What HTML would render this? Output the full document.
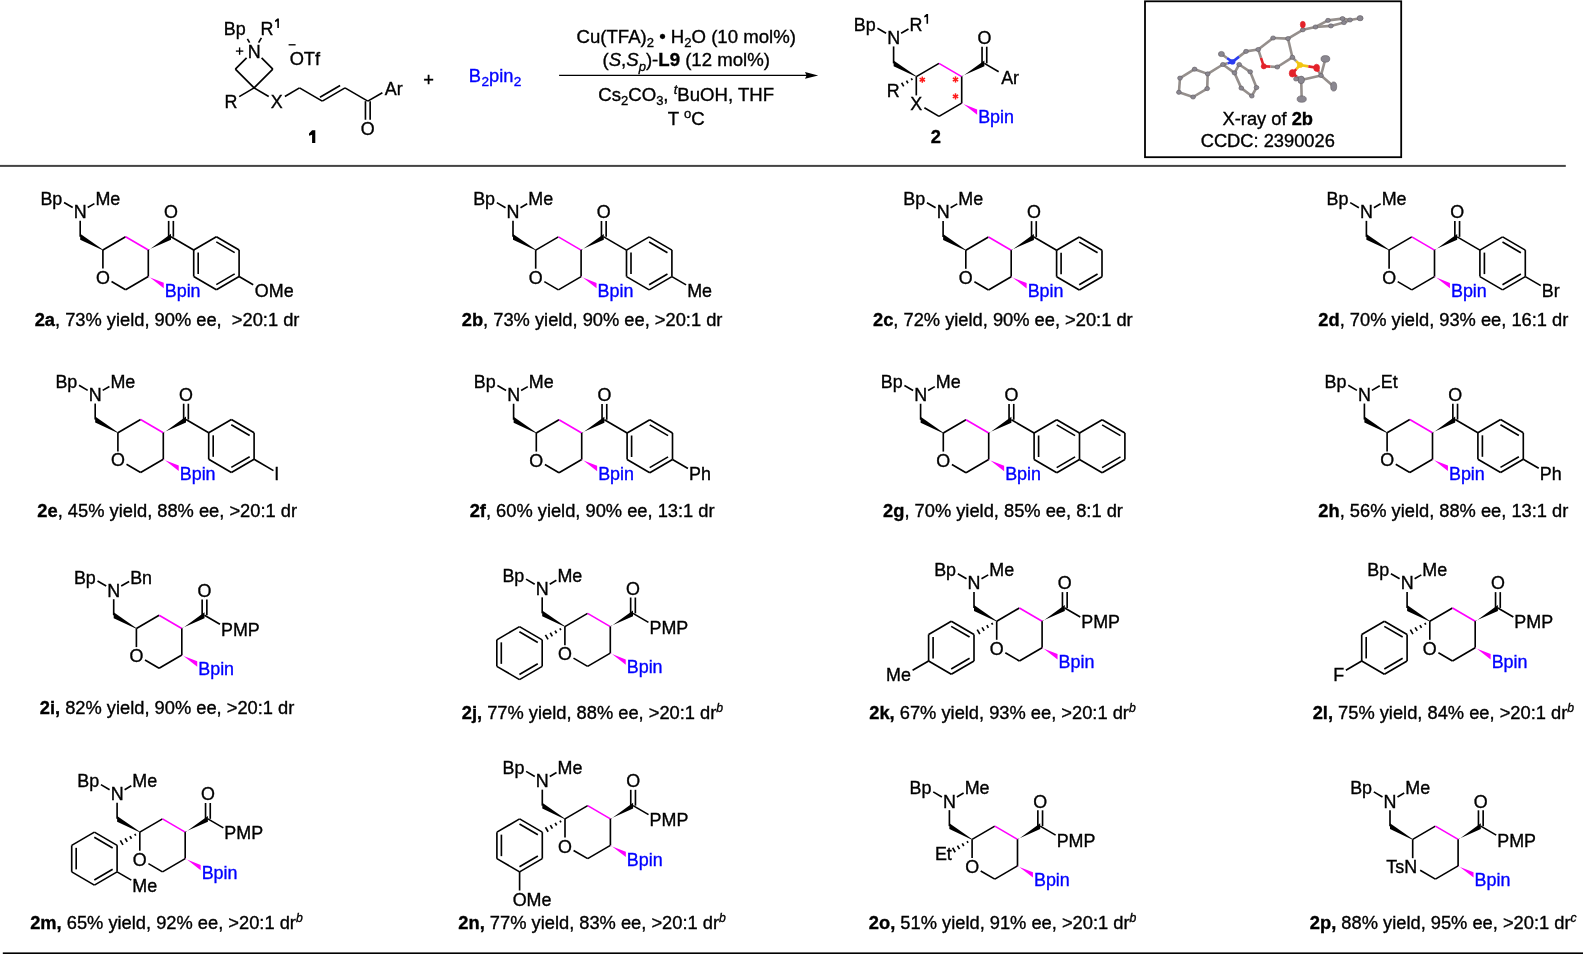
<!DOCTYPE html>
<html><head><meta charset="utf-8"><style>
html,body{margin:0;padding:0;background:#fff;overflow:hidden}
svg{display:block;will-change:transform}
</style></head><body>
<svg width="1583" height="954" viewBox="0 0 1583 954">
<rect width="1583" height="954" fill="#fff"/>
<g font-family="&quot;Liberation Sans&quot;, sans-serif" font-size="18.3" fill="#000" stroke="#000" stroke-width="0.35">
<text x="73.73" y="218.25" font-size="17.9">N</text>
<text x="40.38" y="205" font-size="17.9">Bp</text>
<text x="95.44" y="205" font-size="17.9">Me</text>
<text x="95.94" y="283.6" font-size="17.9">O</text>
<text x="164.04" y="218.25" font-size="17.9">O</text>
<text x="164.77" y="296.85" font-size="17.9" fill="#0000ff" stroke="#0000ff">Bpin</text>
<line x1="80.2" y1="220.75" x2="80.2" y2="236.75" stroke="#000" stroke-width="1.65"/>
<polygon points="103.05,249.74 80.2,233.8 80.2,239.7 102.75,250.26" fill="#000" stroke="none"/>
<line x1="64.02" y1="202.51" x2="72.7" y2="207.57" stroke="#000" stroke-width="1.65"/>
<line x1="87.7" y1="207.57" x2="94.41" y2="203.65" stroke="#000" stroke-width="1.65"/>
<line x1="102.9" y1="250" x2="125.6" y2="236.75" stroke="#000" stroke-width="1.65"/>
<line x1="125.6" y1="236.75" x2="148.3" y2="250" stroke="#ff00ff" stroke-width="1.65"/>
<line x1="148.3" y1="250" x2="148.3" y2="276.5" stroke="#000" stroke-width="1.65"/>
<line x1="148.3" y1="276.5" x2="125.6" y2="289.75" stroke="#000" stroke-width="1.65"/>
<line x1="125.6" y1="289.75" x2="111.51" y2="281.53" stroke="#000" stroke-width="1.65"/>
<line x1="102.9" y1="268.6" x2="102.9" y2="250" stroke="#000" stroke-width="1.65"/>
<polygon points="148.45,250.26 171,233.8 171,239.7 148.15,249.74" fill="#000" stroke="none"/>
<line x1="173.35" y1="236.75" x2="173.35" y2="220.92" stroke="#000" stroke-width="1.65"/>
<line x1="168.65" y1="236.75" x2="168.65" y2="220.92" stroke="#000" stroke-width="1.65"/>
<polygon points="148.15,276.76 163.74,282.81 163.74,288.21 148.45,276.24" fill="#ff00ff" stroke="none"/>
<line x1="171" y1="236.75" x2="193.7" y2="250" stroke="#000" stroke-width="1.65"/>
<line x1="193.7" y1="250" x2="216.4" y2="236.75" stroke="#000" stroke-width="1.65"/>
<line x1="216.4" y1="236.75" x2="239.1" y2="250" stroke="#000" stroke-width="1.65"/>
<line x1="239.1" y1="250" x2="239.1" y2="276.5" stroke="#000" stroke-width="1.65"/>
<line x1="239.1" y1="276.5" x2="216.4" y2="289.75" stroke="#000" stroke-width="1.65"/>
<line x1="216.4" y1="289.75" x2="193.7" y2="276.5" stroke="#000" stroke-width="1.65"/>
<line x1="193.7" y1="276.5" x2="193.7" y2="250" stroke="#000" stroke-width="1.65"/>
<line x1="216.29" y1="241.9" x2="234.67" y2="252.63" stroke="#000" stroke-width="1.65"/>
<line x1="234.67" y1="273.87" x2="216.29" y2="284.6" stroke="#000" stroke-width="1.65"/>
<line x1="198.2" y1="274" x2="198.2" y2="252.5" stroke="#000" stroke-width="1.65"/>
<text x="254.84" y="296.85" font-size="17.9">OMe</text>
<line x1="239.1" y1="276.5" x2="253.19" y2="284.72" stroke="#000" stroke-width="1.65"/>
<text x="506.53" y="218.35" font-size="17.9">N</text>
<text x="473.18" y="205.1" font-size="17.9">Bp</text>
<text x="528.24" y="205.1" font-size="17.9">Me</text>
<text x="528.74" y="283.7" font-size="17.9">O</text>
<text x="596.84" y="218.35" font-size="17.9">O</text>
<text x="597.57" y="296.95" font-size="17.9" fill="#0000ff" stroke="#0000ff">Bpin</text>
<line x1="513" y1="220.85" x2="513" y2="236.85" stroke="#000" stroke-width="1.65"/>
<polygon points="535.85,249.84 513,233.9 513,239.8 535.55,250.36" fill="#000" stroke="none"/>
<line x1="496.82" y1="202.61" x2="505.5" y2="207.67" stroke="#000" stroke-width="1.65"/>
<line x1="520.5" y1="207.67" x2="527.21" y2="203.75" stroke="#000" stroke-width="1.65"/>
<line x1="535.7" y1="250.1" x2="558.4" y2="236.85" stroke="#000" stroke-width="1.65"/>
<line x1="558.4" y1="236.85" x2="581.1" y2="250.1" stroke="#ff00ff" stroke-width="1.65"/>
<line x1="581.1" y1="250.1" x2="581.1" y2="276.6" stroke="#000" stroke-width="1.65"/>
<line x1="581.1" y1="276.6" x2="558.4" y2="289.85" stroke="#000" stroke-width="1.65"/>
<line x1="558.4" y1="289.85" x2="544.31" y2="281.63" stroke="#000" stroke-width="1.65"/>
<line x1="535.7" y1="268.7" x2="535.7" y2="250.1" stroke="#000" stroke-width="1.65"/>
<polygon points="581.25,250.36 603.8,233.9 603.8,239.8 580.95,249.84" fill="#000" stroke="none"/>
<line x1="606.15" y1="236.85" x2="606.15" y2="221.02" stroke="#000" stroke-width="1.65"/>
<line x1="601.45" y1="236.85" x2="601.45" y2="221.02" stroke="#000" stroke-width="1.65"/>
<polygon points="580.95,276.86 596.54,282.91 596.54,288.31 581.25,276.34" fill="#ff00ff" stroke="none"/>
<line x1="603.8" y1="236.85" x2="626.5" y2="250.1" stroke="#000" stroke-width="1.65"/>
<line x1="626.5" y1="250.1" x2="649.2" y2="236.85" stroke="#000" stroke-width="1.65"/>
<line x1="649.2" y1="236.85" x2="671.9" y2="250.1" stroke="#000" stroke-width="1.65"/>
<line x1="671.9" y1="250.1" x2="671.9" y2="276.6" stroke="#000" stroke-width="1.65"/>
<line x1="671.9" y1="276.6" x2="649.2" y2="289.85" stroke="#000" stroke-width="1.65"/>
<line x1="649.2" y1="289.85" x2="626.5" y2="276.6" stroke="#000" stroke-width="1.65"/>
<line x1="626.5" y1="276.6" x2="626.5" y2="250.1" stroke="#000" stroke-width="1.65"/>
<line x1="649.09" y1="242" x2="667.47" y2="252.73" stroke="#000" stroke-width="1.65"/>
<line x1="667.47" y1="273.97" x2="649.09" y2="284.7" stroke="#000" stroke-width="1.65"/>
<line x1="631" y1="274.1" x2="631" y2="252.6" stroke="#000" stroke-width="1.65"/>
<text x="687.14" y="296.95" font-size="17.9">Me</text>
<line x1="671.9" y1="276.6" x2="686.11" y2="284.9" stroke="#000" stroke-width="1.65"/>
<text x="936.63" y="218.45" font-size="17.9">N</text>
<text x="903.28" y="205.2" font-size="17.9">Bp</text>
<text x="958.34" y="205.2" font-size="17.9">Me</text>
<text x="958.84" y="283.8" font-size="17.9">O</text>
<text x="1026.94" y="218.45" font-size="17.9">O</text>
<text x="1027.67" y="297.05" font-size="17.9" fill="#0000ff" stroke="#0000ff">Bpin</text>
<line x1="943.1" y1="220.95" x2="943.1" y2="236.95" stroke="#000" stroke-width="1.65"/>
<polygon points="965.95,249.94 943.1,234 943.1,239.9 965.65,250.46" fill="#000" stroke="none"/>
<line x1="926.92" y1="202.71" x2="935.6" y2="207.77" stroke="#000" stroke-width="1.65"/>
<line x1="950.6" y1="207.77" x2="957.31" y2="203.85" stroke="#000" stroke-width="1.65"/>
<line x1="965.8" y1="250.2" x2="988.5" y2="236.95" stroke="#000" stroke-width="1.65"/>
<line x1="988.5" y1="236.95" x2="1011.2" y2="250.2" stroke="#ff00ff" stroke-width="1.65"/>
<line x1="1011.2" y1="250.2" x2="1011.2" y2="276.7" stroke="#000" stroke-width="1.65"/>
<line x1="1011.2" y1="276.7" x2="988.5" y2="289.95" stroke="#000" stroke-width="1.65"/>
<line x1="988.5" y1="289.95" x2="974.41" y2="281.73" stroke="#000" stroke-width="1.65"/>
<line x1="965.8" y1="268.8" x2="965.8" y2="250.2" stroke="#000" stroke-width="1.65"/>
<polygon points="1011.35,250.46 1033.9,234 1033.9,239.9 1011.05,249.94" fill="#000" stroke="none"/>
<line x1="1036.25" y1="236.95" x2="1036.25" y2="221.12" stroke="#000" stroke-width="1.65"/>
<line x1="1031.55" y1="236.95" x2="1031.55" y2="221.12" stroke="#000" stroke-width="1.65"/>
<polygon points="1011.05,276.96 1026.64,283.01 1026.64,288.41 1011.35,276.44" fill="#ff00ff" stroke="none"/>
<line x1="1033.9" y1="236.95" x2="1056.6" y2="250.2" stroke="#000" stroke-width="1.65"/>
<line x1="1056.6" y1="250.2" x2="1079.3" y2="236.95" stroke="#000" stroke-width="1.65"/>
<line x1="1079.3" y1="236.95" x2="1102" y2="250.2" stroke="#000" stroke-width="1.65"/>
<line x1="1102" y1="250.2" x2="1102" y2="276.7" stroke="#000" stroke-width="1.65"/>
<line x1="1102" y1="276.7" x2="1079.3" y2="289.95" stroke="#000" stroke-width="1.65"/>
<line x1="1079.3" y1="289.95" x2="1056.6" y2="276.7" stroke="#000" stroke-width="1.65"/>
<line x1="1056.6" y1="276.7" x2="1056.6" y2="250.2" stroke="#000" stroke-width="1.65"/>
<line x1="1079.19" y1="242.1" x2="1097.57" y2="252.83" stroke="#000" stroke-width="1.65"/>
<line x1="1097.57" y1="274.07" x2="1079.19" y2="284.8" stroke="#000" stroke-width="1.65"/>
<line x1="1061.1" y1="274.2" x2="1061.1" y2="252.7" stroke="#000" stroke-width="1.65"/>
<text x="1359.93" y="218.35" font-size="17.9">N</text>
<text x="1326.58" y="205.1" font-size="17.9">Bp</text>
<text x="1381.64" y="205.1" font-size="17.9">Me</text>
<text x="1382.14" y="283.7" font-size="17.9">O</text>
<text x="1450.24" y="218.35" font-size="17.9">O</text>
<text x="1450.97" y="296.95" font-size="17.9" fill="#0000ff" stroke="#0000ff">Bpin</text>
<line x1="1366.4" y1="220.85" x2="1366.4" y2="236.85" stroke="#000" stroke-width="1.65"/>
<polygon points="1389.25,249.84 1366.4,233.9 1366.4,239.8 1388.95,250.36" fill="#000" stroke="none"/>
<line x1="1350.22" y1="202.61" x2="1358.9" y2="207.67" stroke="#000" stroke-width="1.65"/>
<line x1="1373.9" y1="207.67" x2="1380.61" y2="203.75" stroke="#000" stroke-width="1.65"/>
<line x1="1389.1" y1="250.1" x2="1411.8" y2="236.85" stroke="#000" stroke-width="1.65"/>
<line x1="1411.8" y1="236.85" x2="1434.5" y2="250.1" stroke="#ff00ff" stroke-width="1.65"/>
<line x1="1434.5" y1="250.1" x2="1434.5" y2="276.6" stroke="#000" stroke-width="1.65"/>
<line x1="1434.5" y1="276.6" x2="1411.8" y2="289.85" stroke="#000" stroke-width="1.65"/>
<line x1="1411.8" y1="289.85" x2="1397.71" y2="281.63" stroke="#000" stroke-width="1.65"/>
<line x1="1389.1" y1="268.7" x2="1389.1" y2="250.1" stroke="#000" stroke-width="1.65"/>
<polygon points="1434.65,250.36 1457.2,233.9 1457.2,239.8 1434.35,249.84" fill="#000" stroke="none"/>
<line x1="1459.55" y1="236.85" x2="1459.55" y2="221.02" stroke="#000" stroke-width="1.65"/>
<line x1="1454.85" y1="236.85" x2="1454.85" y2="221.02" stroke="#000" stroke-width="1.65"/>
<polygon points="1434.35,276.86 1449.94,282.91 1449.94,288.31 1434.65,276.34" fill="#ff00ff" stroke="none"/>
<line x1="1457.2" y1="236.85" x2="1479.9" y2="250.1" stroke="#000" stroke-width="1.65"/>
<line x1="1479.9" y1="250.1" x2="1502.6" y2="236.85" stroke="#000" stroke-width="1.65"/>
<line x1="1502.6" y1="236.85" x2="1525.3" y2="250.1" stroke="#000" stroke-width="1.65"/>
<line x1="1525.3" y1="250.1" x2="1525.3" y2="276.6" stroke="#000" stroke-width="1.65"/>
<line x1="1525.3" y1="276.6" x2="1502.6" y2="289.85" stroke="#000" stroke-width="1.65"/>
<line x1="1502.6" y1="289.85" x2="1479.9" y2="276.6" stroke="#000" stroke-width="1.65"/>
<line x1="1479.9" y1="276.6" x2="1479.9" y2="250.1" stroke="#000" stroke-width="1.65"/>
<line x1="1502.49" y1="242" x2="1520.87" y2="252.73" stroke="#000" stroke-width="1.65"/>
<line x1="1520.87" y1="273.97" x2="1502.49" y2="284.7" stroke="#000" stroke-width="1.65"/>
<line x1="1484.4" y1="274.1" x2="1484.4" y2="252.6" stroke="#000" stroke-width="1.65"/>
<text x="1541.77" y="296.95" font-size="17.9">Br</text>
<line x1="1525.3" y1="276.6" x2="1540.74" y2="285.61" stroke="#000" stroke-width="1.65"/>
<text x="88.73" y="401.05" font-size="17.9">N</text>
<text x="55.38" y="387.8" font-size="17.9">Bp</text>
<text x="110.44" y="387.8" font-size="17.9">Me</text>
<text x="110.94" y="466.4" font-size="17.9">O</text>
<text x="179.04" y="401.05" font-size="17.9">O</text>
<text x="179.77" y="479.65" font-size="17.9" fill="#0000ff" stroke="#0000ff">Bpin</text>
<line x1="95.2" y1="403.55" x2="95.2" y2="419.55" stroke="#000" stroke-width="1.65"/>
<polygon points="118.05,432.54 95.2,416.6 95.2,422.5 117.75,433.06" fill="#000" stroke="none"/>
<line x1="79.02" y1="385.31" x2="87.7" y2="390.37" stroke="#000" stroke-width="1.65"/>
<line x1="102.7" y1="390.37" x2="109.41" y2="386.45" stroke="#000" stroke-width="1.65"/>
<line x1="117.9" y1="432.8" x2="140.6" y2="419.55" stroke="#000" stroke-width="1.65"/>
<line x1="140.6" y1="419.55" x2="163.3" y2="432.8" stroke="#ff00ff" stroke-width="1.65"/>
<line x1="163.3" y1="432.8" x2="163.3" y2="459.3" stroke="#000" stroke-width="1.65"/>
<line x1="163.3" y1="459.3" x2="140.6" y2="472.55" stroke="#000" stroke-width="1.65"/>
<line x1="140.6" y1="472.55" x2="126.51" y2="464.33" stroke="#000" stroke-width="1.65"/>
<line x1="117.9" y1="451.4" x2="117.9" y2="432.8" stroke="#000" stroke-width="1.65"/>
<polygon points="163.45,433.06 186,416.6 186,422.5 163.15,432.54" fill="#000" stroke="none"/>
<line x1="188.35" y1="419.55" x2="188.35" y2="403.72" stroke="#000" stroke-width="1.65"/>
<line x1="183.65" y1="419.55" x2="183.65" y2="403.72" stroke="#000" stroke-width="1.65"/>
<polygon points="163.15,459.56 178.74,465.61 178.74,471.01 163.45,459.04" fill="#ff00ff" stroke="none"/>
<line x1="186" y1="419.55" x2="208.7" y2="432.8" stroke="#000" stroke-width="1.65"/>
<line x1="208.7" y1="432.8" x2="231.4" y2="419.55" stroke="#000" stroke-width="1.65"/>
<line x1="231.4" y1="419.55" x2="254.1" y2="432.8" stroke="#000" stroke-width="1.65"/>
<line x1="254.1" y1="432.8" x2="254.1" y2="459.3" stroke="#000" stroke-width="1.65"/>
<line x1="254.1" y1="459.3" x2="231.4" y2="472.55" stroke="#000" stroke-width="1.65"/>
<line x1="231.4" y1="472.55" x2="208.7" y2="459.3" stroke="#000" stroke-width="1.65"/>
<line x1="208.7" y1="459.3" x2="208.7" y2="432.8" stroke="#000" stroke-width="1.65"/>
<line x1="231.29" y1="424.7" x2="249.67" y2="435.43" stroke="#000" stroke-width="1.65"/>
<line x1="249.67" y1="456.67" x2="231.29" y2="467.4" stroke="#000" stroke-width="1.65"/>
<line x1="213.2" y1="456.8" x2="213.2" y2="435.3" stroke="#000" stroke-width="1.65"/>
<text x="274.31" y="479.65" font-size="17.9">I</text>
<line x1="254.1" y1="459.3" x2="273.47" y2="470.6" stroke="#000" stroke-width="1.65"/>
<text x="507.13" y="401.25" font-size="17.9">N</text>
<text x="473.78" y="388" font-size="17.9">Bp</text>
<text x="528.84" y="388" font-size="17.9">Me</text>
<text x="529.34" y="466.6" font-size="17.9">O</text>
<text x="597.44" y="401.25" font-size="17.9">O</text>
<text x="598.17" y="479.85" font-size="17.9" fill="#0000ff" stroke="#0000ff">Bpin</text>
<line x1="513.6" y1="403.75" x2="513.6" y2="419.75" stroke="#000" stroke-width="1.65"/>
<polygon points="536.45,432.74 513.6,416.8 513.6,422.7 536.15,433.26" fill="#000" stroke="none"/>
<line x1="497.42" y1="385.51" x2="506.1" y2="390.57" stroke="#000" stroke-width="1.65"/>
<line x1="521.1" y1="390.57" x2="527.81" y2="386.65" stroke="#000" stroke-width="1.65"/>
<line x1="536.3" y1="433" x2="559" y2="419.75" stroke="#000" stroke-width="1.65"/>
<line x1="559" y1="419.75" x2="581.7" y2="433" stroke="#ff00ff" stroke-width="1.65"/>
<line x1="581.7" y1="433" x2="581.7" y2="459.5" stroke="#000" stroke-width="1.65"/>
<line x1="581.7" y1="459.5" x2="559" y2="472.75" stroke="#000" stroke-width="1.65"/>
<line x1="559" y1="472.75" x2="544.91" y2="464.53" stroke="#000" stroke-width="1.65"/>
<line x1="536.3" y1="451.6" x2="536.3" y2="433" stroke="#000" stroke-width="1.65"/>
<polygon points="581.85,433.26 604.4,416.8 604.4,422.7 581.55,432.74" fill="#000" stroke="none"/>
<line x1="606.75" y1="419.75" x2="606.75" y2="403.92" stroke="#000" stroke-width="1.65"/>
<line x1="602.05" y1="419.75" x2="602.05" y2="403.92" stroke="#000" stroke-width="1.65"/>
<polygon points="581.55,459.76 597.14,465.81 597.14,471.21 581.85,459.24" fill="#ff00ff" stroke="none"/>
<line x1="604.4" y1="419.75" x2="627.1" y2="433" stroke="#000" stroke-width="1.65"/>
<line x1="627.1" y1="433" x2="649.8" y2="419.75" stroke="#000" stroke-width="1.65"/>
<line x1="649.8" y1="419.75" x2="672.5" y2="433" stroke="#000" stroke-width="1.65"/>
<line x1="672.5" y1="433" x2="672.5" y2="459.5" stroke="#000" stroke-width="1.65"/>
<line x1="672.5" y1="459.5" x2="649.8" y2="472.75" stroke="#000" stroke-width="1.65"/>
<line x1="649.8" y1="472.75" x2="627.1" y2="459.5" stroke="#000" stroke-width="1.65"/>
<line x1="627.1" y1="459.5" x2="627.1" y2="433" stroke="#000" stroke-width="1.65"/>
<line x1="649.69" y1="424.9" x2="668.07" y2="435.63" stroke="#000" stroke-width="1.65"/>
<line x1="668.07" y1="456.87" x2="649.69" y2="467.6" stroke="#000" stroke-width="1.65"/>
<line x1="631.6" y1="457" x2="631.6" y2="435.5" stroke="#000" stroke-width="1.65"/>
<text x="688.97" y="479.85" font-size="17.9">Ph</text>
<line x1="672.5" y1="459.5" x2="687.94" y2="468.51" stroke="#000" stroke-width="1.65"/>
<text x="914.13" y="401.25" font-size="17.9">N</text>
<text x="880.78" y="388" font-size="17.9">Bp</text>
<text x="935.84" y="388" font-size="17.9">Me</text>
<text x="936.34" y="466.6" font-size="17.9">O</text>
<text x="1004.44" y="401.25" font-size="17.9">O</text>
<text x="1005.17" y="479.85" font-size="17.9" fill="#0000ff" stroke="#0000ff">Bpin</text>
<line x1="920.6" y1="403.75" x2="920.6" y2="419.75" stroke="#000" stroke-width="1.65"/>
<polygon points="943.45,432.74 920.6,416.8 920.6,422.7 943.15,433.26" fill="#000" stroke="none"/>
<line x1="904.42" y1="385.51" x2="913.1" y2="390.57" stroke="#000" stroke-width="1.65"/>
<line x1="928.1" y1="390.57" x2="934.81" y2="386.65" stroke="#000" stroke-width="1.65"/>
<line x1="943.3" y1="433" x2="966" y2="419.75" stroke="#000" stroke-width="1.65"/>
<line x1="966" y1="419.75" x2="988.7" y2="433" stroke="#ff00ff" stroke-width="1.65"/>
<line x1="988.7" y1="433" x2="988.7" y2="459.5" stroke="#000" stroke-width="1.65"/>
<line x1="988.7" y1="459.5" x2="966" y2="472.75" stroke="#000" stroke-width="1.65"/>
<line x1="966" y1="472.75" x2="951.91" y2="464.53" stroke="#000" stroke-width="1.65"/>
<line x1="943.3" y1="451.6" x2="943.3" y2="433" stroke="#000" stroke-width="1.65"/>
<polygon points="988.85,433.26 1011.4,416.8 1011.4,422.7 988.55,432.74" fill="#000" stroke="none"/>
<line x1="1013.75" y1="419.75" x2="1013.75" y2="403.92" stroke="#000" stroke-width="1.65"/>
<line x1="1009.05" y1="419.75" x2="1009.05" y2="403.92" stroke="#000" stroke-width="1.65"/>
<polygon points="988.55,459.76 1004.14,465.81 1004.14,471.21 988.85,459.24" fill="#ff00ff" stroke="none"/>
<line x1="1011.4" y1="419.75" x2="1034.1" y2="433" stroke="#000" stroke-width="1.65"/>
<line x1="1034.1" y1="433" x2="1056.8" y2="419.75" stroke="#000" stroke-width="1.65"/>
<line x1="1056.8" y1="419.75" x2="1079.5" y2="433" stroke="#000" stroke-width="1.65"/>
<line x1="1079.5" y1="433" x2="1079.5" y2="459.5" stroke="#000" stroke-width="1.65"/>
<line x1="1079.5" y1="459.5" x2="1056.8" y2="472.75" stroke="#000" stroke-width="1.65"/>
<line x1="1056.8" y1="472.75" x2="1034.1" y2="459.5" stroke="#000" stroke-width="1.65"/>
<line x1="1034.1" y1="459.5" x2="1034.1" y2="433" stroke="#000" stroke-width="1.65"/>
<line x1="1056.69" y1="424.9" x2="1075.07" y2="435.63" stroke="#000" stroke-width="1.65"/>
<line x1="1075.07" y1="456.87" x2="1056.69" y2="467.6" stroke="#000" stroke-width="1.65"/>
<line x1="1038.6" y1="457" x2="1038.6" y2="435.5" stroke="#000" stroke-width="1.65"/>
<line x1="1102.2" y1="419.75" x2="1124.9" y2="433" stroke="#000" stroke-width="1.65"/>
<line x1="1124.9" y1="433" x2="1124.9" y2="459.5" stroke="#000" stroke-width="1.65"/>
<line x1="1124.9" y1="459.5" x2="1102.2" y2="472.75" stroke="#000" stroke-width="1.65"/>
<line x1="1102.2" y1="472.75" x2="1079.5" y2="459.5" stroke="#000" stroke-width="1.65"/>
<line x1="1079.5" y1="433" x2="1102.2" y2="419.75" stroke="#000" stroke-width="1.65"/>
<line x1="1102.09" y1="424.9" x2="1120.47" y2="435.63" stroke="#000" stroke-width="1.65"/>
<line x1="1120.47" y1="456.87" x2="1102.09" y2="467.6" stroke="#000" stroke-width="1.65"/>
<text x="1357.93" y="401.05" font-size="17.9">N</text>
<text x="1324.58" y="387.8" font-size="17.9">Bp</text>
<text x="1380.78" y="387.8" font-size="17.9">Et</text>
<text x="1380.14" y="466.4" font-size="17.9">O</text>
<text x="1448.24" y="401.05" font-size="17.9">O</text>
<text x="1448.97" y="479.65" font-size="17.9" fill="#0000ff" stroke="#0000ff">Bpin</text>
<line x1="1364.4" y1="403.55" x2="1364.4" y2="419.55" stroke="#000" stroke-width="1.65"/>
<polygon points="1387.25,432.54 1364.4,416.6 1364.4,422.5 1386.95,433.06" fill="#000" stroke="none"/>
<line x1="1348.22" y1="385.31" x2="1356.9" y2="390.37" stroke="#000" stroke-width="1.65"/>
<line x1="1371.9" y1="390.37" x2="1379.75" y2="385.79" stroke="#000" stroke-width="1.65"/>
<line x1="1387.1" y1="432.8" x2="1409.8" y2="419.55" stroke="#000" stroke-width="1.65"/>
<line x1="1409.8" y1="419.55" x2="1432.5" y2="432.8" stroke="#ff00ff" stroke-width="1.65"/>
<line x1="1432.5" y1="432.8" x2="1432.5" y2="459.3" stroke="#000" stroke-width="1.65"/>
<line x1="1432.5" y1="459.3" x2="1409.8" y2="472.55" stroke="#000" stroke-width="1.65"/>
<line x1="1409.8" y1="472.55" x2="1395.71" y2="464.33" stroke="#000" stroke-width="1.65"/>
<line x1="1387.1" y1="451.4" x2="1387.1" y2="432.8" stroke="#000" stroke-width="1.65"/>
<polygon points="1432.65,433.06 1455.2,416.6 1455.2,422.5 1432.35,432.54" fill="#000" stroke="none"/>
<line x1="1457.55" y1="419.55" x2="1457.55" y2="403.72" stroke="#000" stroke-width="1.65"/>
<line x1="1452.85" y1="419.55" x2="1452.85" y2="403.72" stroke="#000" stroke-width="1.65"/>
<polygon points="1432.35,459.56 1447.94,465.61 1447.94,471.01 1432.65,459.04" fill="#ff00ff" stroke="none"/>
<line x1="1455.2" y1="419.55" x2="1477.9" y2="432.8" stroke="#000" stroke-width="1.65"/>
<line x1="1477.9" y1="432.8" x2="1500.6" y2="419.55" stroke="#000" stroke-width="1.65"/>
<line x1="1500.6" y1="419.55" x2="1523.3" y2="432.8" stroke="#000" stroke-width="1.65"/>
<line x1="1523.3" y1="432.8" x2="1523.3" y2="459.3" stroke="#000" stroke-width="1.65"/>
<line x1="1523.3" y1="459.3" x2="1500.6" y2="472.55" stroke="#000" stroke-width="1.65"/>
<line x1="1500.6" y1="472.55" x2="1477.9" y2="459.3" stroke="#000" stroke-width="1.65"/>
<line x1="1477.9" y1="459.3" x2="1477.9" y2="432.8" stroke="#000" stroke-width="1.65"/>
<line x1="1500.49" y1="424.7" x2="1518.87" y2="435.43" stroke="#000" stroke-width="1.65"/>
<line x1="1518.87" y1="456.67" x2="1500.49" y2="467.4" stroke="#000" stroke-width="1.65"/>
<line x1="1482.4" y1="456.8" x2="1482.4" y2="435.3" stroke="#000" stroke-width="1.65"/>
<text x="1539.77" y="479.65" font-size="17.9">Ph</text>
<line x1="1523.3" y1="459.3" x2="1538.74" y2="468.31" stroke="#000" stroke-width="1.65"/>
<text x="107.23" y="596.75" font-size="17.9">N</text>
<text x="73.88" y="583.5" font-size="17.9">Bp</text>
<text x="130.17" y="583.5" font-size="17.9">Bn</text>
<text x="129.44" y="662.1" font-size="17.9">O</text>
<text x="197.54" y="596.75" font-size="17.9">O</text>
<text x="198.27" y="675.35" font-size="17.9" fill="#0000ff" stroke="#0000ff">Bpin</text>
<line x1="113.7" y1="599.25" x2="113.7" y2="615.25" stroke="#000" stroke-width="1.65"/>
<polygon points="136.55,628.24 113.7,612.3 113.7,618.2 136.25,628.76" fill="#000" stroke="none"/>
<line x1="97.52" y1="581.01" x2="106.2" y2="586.07" stroke="#000" stroke-width="1.65"/>
<line x1="121.2" y1="586.07" x2="129.14" y2="581.44" stroke="#000" stroke-width="1.65"/>
<line x1="136.4" y1="628.5" x2="159.1" y2="615.25" stroke="#000" stroke-width="1.65"/>
<line x1="159.1" y1="615.25" x2="181.8" y2="628.5" stroke="#ff00ff" stroke-width="1.65"/>
<line x1="181.8" y1="628.5" x2="181.8" y2="655" stroke="#000" stroke-width="1.65"/>
<line x1="181.8" y1="655" x2="159.1" y2="668.25" stroke="#000" stroke-width="1.65"/>
<line x1="159.1" y1="668.25" x2="145.01" y2="660.03" stroke="#000" stroke-width="1.65"/>
<line x1="136.4" y1="647.1" x2="136.4" y2="628.5" stroke="#000" stroke-width="1.65"/>
<polygon points="181.95,628.76 204.5,612.3 204.5,618.2 181.65,628.24" fill="#000" stroke="none"/>
<line x1="206.85" y1="615.25" x2="206.85" y2="599.42" stroke="#000" stroke-width="1.65"/>
<line x1="202.15" y1="615.25" x2="202.15" y2="599.42" stroke="#000" stroke-width="1.65"/>
<polygon points="181.65,655.26 197.24,661.31 197.24,666.71 181.95,654.74" fill="#ff00ff" stroke="none"/>
<text x="220.97" y="635.6" font-size="17.9">PMP</text>
<line x1="204.5" y1="615.25" x2="219.94" y2="624.26" stroke="#000" stroke-width="1.65"/>
<text x="535.73" y="594.85" font-size="17.9">N</text>
<text x="502.38" y="581.6" font-size="17.9">Bp</text>
<text x="557.44" y="581.6" font-size="17.9">Me</text>
<text x="557.94" y="660.2" font-size="17.9">O</text>
<text x="626.04" y="594.85" font-size="17.9">O</text>
<text x="626.77" y="673.45" font-size="17.9" fill="#0000ff" stroke="#0000ff">Bpin</text>
<line x1="542.2" y1="597.35" x2="542.2" y2="613.35" stroke="#000" stroke-width="1.65"/>
<polygon points="565.05,626.34 542.2,610.4 542.2,616.3 564.75,626.86" fill="#000" stroke="none"/>
<line x1="526.02" y1="579.11" x2="534.7" y2="584.17" stroke="#000" stroke-width="1.65"/>
<line x1="549.7" y1="584.17" x2="556.41" y2="580.25" stroke="#000" stroke-width="1.65"/>
<line x1="564.9" y1="626.6" x2="587.6" y2="613.35" stroke="#000" stroke-width="1.65"/>
<line x1="587.6" y1="613.35" x2="610.3" y2="626.6" stroke="#ff00ff" stroke-width="1.65"/>
<line x1="610.3" y1="626.6" x2="610.3" y2="653.1" stroke="#000" stroke-width="1.65"/>
<line x1="610.3" y1="653.1" x2="587.6" y2="666.35" stroke="#000" stroke-width="1.65"/>
<line x1="587.6" y1="666.35" x2="573.51" y2="658.13" stroke="#000" stroke-width="1.65"/>
<line x1="564.9" y1="645.2" x2="564.9" y2="626.6" stroke="#000" stroke-width="1.65"/>
<polygon points="610.45,626.86 633,610.4 633,616.3 610.15,626.34" fill="#000" stroke="none"/>
<line x1="635.35" y1="613.35" x2="635.35" y2="597.52" stroke="#000" stroke-width="1.65"/>
<line x1="630.65" y1="613.35" x2="630.65" y2="597.52" stroke="#000" stroke-width="1.65"/>
<polygon points="610.15,653.36 625.74,659.41 625.74,664.81 610.45,652.84" fill="#ff00ff" stroke="none"/>
<text x="649.47" y="633.7" font-size="17.9">PMP</text>
<line x1="633" y1="613.35" x2="648.44" y2="622.36" stroke="#000" stroke-width="1.65"/>
<line x1="559.86" y1="628.4" x2="560.86" y2="630.1" stroke="#000" stroke-width="1.65"/>
<line x1="555.05" y1="630.58" x2="556.59" y2="633.22" stroke="#000" stroke-width="1.65"/>
<line x1="550.24" y1="632.77" x2="552.32" y2="636.33" stroke="#000" stroke-width="1.65"/>
<line x1="545.43" y1="634.95" x2="548.05" y2="639.45" stroke="#000" stroke-width="1.65"/>
<line x1="542.2" y1="639.85" x2="519.5" y2="626.6" stroke="#000" stroke-width="1.65"/>
<line x1="519.5" y1="626.6" x2="496.8" y2="639.85" stroke="#000" stroke-width="1.65"/>
<line x1="496.8" y1="639.85" x2="496.8" y2="666.35" stroke="#000" stroke-width="1.65"/>
<line x1="496.8" y1="666.35" x2="519.5" y2="679.6" stroke="#000" stroke-width="1.65"/>
<line x1="519.5" y1="679.6" x2="542.2" y2="666.35" stroke="#000" stroke-width="1.65"/>
<line x1="542.2" y1="666.35" x2="542.2" y2="639.85" stroke="#000" stroke-width="1.65"/>
<line x1="537.77" y1="642.48" x2="519.39" y2="631.75" stroke="#000" stroke-width="1.65"/>
<line x1="501.3" y1="642.35" x2="501.3" y2="663.85" stroke="#000" stroke-width="1.65"/>
<line x1="519.39" y1="674.45" x2="537.77" y2="663.72" stroke="#000" stroke-width="1.65"/>
<text x="967.53" y="589.45" font-size="17.9">N</text>
<text x="934.18" y="576.2" font-size="17.9">Bp</text>
<text x="989.24" y="576.2" font-size="17.9">Me</text>
<text x="989.74" y="654.8" font-size="17.9">O</text>
<text x="1057.84" y="589.45" font-size="17.9">O</text>
<text x="1058.57" y="668.05" font-size="17.9" fill="#0000ff" stroke="#0000ff">Bpin</text>
<line x1="974" y1="591.95" x2="974" y2="607.95" stroke="#000" stroke-width="1.65"/>
<polygon points="996.85,620.94 974,605 974,610.9 996.55,621.46" fill="#000" stroke="none"/>
<line x1="957.82" y1="573.71" x2="966.5" y2="578.77" stroke="#000" stroke-width="1.65"/>
<line x1="981.5" y1="578.77" x2="988.21" y2="574.85" stroke="#000" stroke-width="1.65"/>
<line x1="996.7" y1="621.2" x2="1019.4" y2="607.95" stroke="#000" stroke-width="1.65"/>
<line x1="1019.4" y1="607.95" x2="1042.1" y2="621.2" stroke="#ff00ff" stroke-width="1.65"/>
<line x1="1042.1" y1="621.2" x2="1042.1" y2="647.7" stroke="#000" stroke-width="1.65"/>
<line x1="1042.1" y1="647.7" x2="1019.4" y2="660.95" stroke="#000" stroke-width="1.65"/>
<line x1="1019.4" y1="660.95" x2="1005.31" y2="652.73" stroke="#000" stroke-width="1.65"/>
<line x1="996.7" y1="639.8" x2="996.7" y2="621.2" stroke="#000" stroke-width="1.65"/>
<polygon points="1042.25,621.46 1064.8,605 1064.8,610.9 1041.95,620.94" fill="#000" stroke="none"/>
<line x1="1067.15" y1="607.95" x2="1067.15" y2="592.12" stroke="#000" stroke-width="1.65"/>
<line x1="1062.45" y1="607.95" x2="1062.45" y2="592.12" stroke="#000" stroke-width="1.65"/>
<polygon points="1041.95,647.96 1057.54,654.01 1057.54,659.41 1042.25,647.44" fill="#ff00ff" stroke="none"/>
<text x="1081.27" y="628.3" font-size="17.9">PMP</text>
<line x1="1064.8" y1="607.95" x2="1080.24" y2="616.96" stroke="#000" stroke-width="1.65"/>
<line x1="991.66" y1="623" x2="992.66" y2="624.7" stroke="#000" stroke-width="1.65"/>
<line x1="986.85" y1="625.18" x2="988.39" y2="627.82" stroke="#000" stroke-width="1.65"/>
<line x1="982.04" y1="627.37" x2="984.12" y2="630.93" stroke="#000" stroke-width="1.65"/>
<line x1="977.23" y1="629.55" x2="979.85" y2="634.05" stroke="#000" stroke-width="1.65"/>
<line x1="974" y1="634.45" x2="951.3" y2="621.2" stroke="#000" stroke-width="1.65"/>
<line x1="951.3" y1="621.2" x2="928.6" y2="634.45" stroke="#000" stroke-width="1.65"/>
<line x1="928.6" y1="634.45" x2="928.6" y2="660.95" stroke="#000" stroke-width="1.65"/>
<line x1="928.6" y1="660.95" x2="951.3" y2="674.2" stroke="#000" stroke-width="1.65"/>
<line x1="951.3" y1="674.2" x2="974" y2="660.95" stroke="#000" stroke-width="1.65"/>
<line x1="974" y1="660.95" x2="974" y2="634.45" stroke="#000" stroke-width="1.65"/>
<line x1="969.57" y1="637.08" x2="951.19" y2="626.35" stroke="#000" stroke-width="1.65"/>
<line x1="933.1" y1="636.95" x2="933.1" y2="658.45" stroke="#000" stroke-width="1.65"/>
<line x1="951.19" y1="669.05" x2="969.57" y2="658.32" stroke="#000" stroke-width="1.65"/>
<text x="886.03" y="681.3" font-size="17.9">Me</text>
<line x1="928.6" y1="660.95" x2="912.6" y2="670.29" stroke="#000" stroke-width="1.65"/>
<text x="1400.63" y="589.45" font-size="17.9">N</text>
<text x="1367.28" y="576.2" font-size="17.9">Bp</text>
<text x="1422.34" y="576.2" font-size="17.9">Me</text>
<text x="1422.84" y="654.8" font-size="17.9">O</text>
<text x="1490.94" y="589.45" font-size="17.9">O</text>
<text x="1491.67" y="668.05" font-size="17.9" fill="#0000ff" stroke="#0000ff">Bpin</text>
<line x1="1407.1" y1="591.95" x2="1407.1" y2="607.95" stroke="#000" stroke-width="1.65"/>
<polygon points="1429.95,620.94 1407.1,605 1407.1,610.9 1429.65,621.46" fill="#000" stroke="none"/>
<line x1="1390.92" y1="573.71" x2="1399.6" y2="578.77" stroke="#000" stroke-width="1.65"/>
<line x1="1414.6" y1="578.77" x2="1421.31" y2="574.85" stroke="#000" stroke-width="1.65"/>
<line x1="1429.8" y1="621.2" x2="1452.5" y2="607.95" stroke="#000" stroke-width="1.65"/>
<line x1="1452.5" y1="607.95" x2="1475.2" y2="621.2" stroke="#ff00ff" stroke-width="1.65"/>
<line x1="1475.2" y1="621.2" x2="1475.2" y2="647.7" stroke="#000" stroke-width="1.65"/>
<line x1="1475.2" y1="647.7" x2="1452.5" y2="660.95" stroke="#000" stroke-width="1.65"/>
<line x1="1452.5" y1="660.95" x2="1438.41" y2="652.73" stroke="#000" stroke-width="1.65"/>
<line x1="1429.8" y1="639.8" x2="1429.8" y2="621.2" stroke="#000" stroke-width="1.65"/>
<polygon points="1475.35,621.46 1497.9,605 1497.9,610.9 1475.05,620.94" fill="#000" stroke="none"/>
<line x1="1500.25" y1="607.95" x2="1500.25" y2="592.12" stroke="#000" stroke-width="1.65"/>
<line x1="1495.55" y1="607.95" x2="1495.55" y2="592.12" stroke="#000" stroke-width="1.65"/>
<polygon points="1475.05,647.96 1490.64,654.01 1490.64,659.41 1475.35,647.44" fill="#ff00ff" stroke="none"/>
<text x="1514.37" y="628.3" font-size="17.9">PMP</text>
<line x1="1497.9" y1="607.95" x2="1513.34" y2="616.96" stroke="#000" stroke-width="1.65"/>
<line x1="1424.76" y1="623" x2="1425.76" y2="624.7" stroke="#000" stroke-width="1.65"/>
<line x1="1419.95" y1="625.18" x2="1421.49" y2="627.82" stroke="#000" stroke-width="1.65"/>
<line x1="1415.14" y1="627.37" x2="1417.22" y2="630.93" stroke="#000" stroke-width="1.65"/>
<line x1="1410.33" y1="629.55" x2="1412.95" y2="634.05" stroke="#000" stroke-width="1.65"/>
<line x1="1407.1" y1="634.45" x2="1384.4" y2="621.2" stroke="#000" stroke-width="1.65"/>
<line x1="1384.4" y1="621.2" x2="1361.7" y2="634.45" stroke="#000" stroke-width="1.65"/>
<line x1="1361.7" y1="634.45" x2="1361.7" y2="660.95" stroke="#000" stroke-width="1.65"/>
<line x1="1361.7" y1="660.95" x2="1384.4" y2="674.2" stroke="#000" stroke-width="1.65"/>
<line x1="1384.4" y1="674.2" x2="1407.1" y2="660.95" stroke="#000" stroke-width="1.65"/>
<line x1="1407.1" y1="660.95" x2="1407.1" y2="634.45" stroke="#000" stroke-width="1.65"/>
<line x1="1402.67" y1="637.08" x2="1384.29" y2="626.35" stroke="#000" stroke-width="1.65"/>
<line x1="1366.2" y1="636.95" x2="1366.2" y2="658.45" stroke="#000" stroke-width="1.65"/>
<line x1="1384.29" y1="669.05" x2="1402.67" y2="658.32" stroke="#000" stroke-width="1.65"/>
<text x="1333.16" y="681.3" font-size="17.9">F</text>
<line x1="1361.7" y1="660.95" x2="1345.87" y2="670.19" stroke="#000" stroke-width="1.65"/>
<text x="110.63" y="800.35" font-size="17.9">N</text>
<text x="77.28" y="787.1" font-size="17.9">Bp</text>
<text x="132.34" y="787.1" font-size="17.9">Me</text>
<text x="132.84" y="865.7" font-size="17.9">O</text>
<text x="200.94" y="800.35" font-size="17.9">O</text>
<text x="201.67" y="878.95" font-size="17.9" fill="#0000ff" stroke="#0000ff">Bpin</text>
<line x1="117.1" y1="802.85" x2="117.1" y2="818.85" stroke="#000" stroke-width="1.65"/>
<polygon points="139.95,831.84 117.1,815.9 117.1,821.8 139.65,832.36" fill="#000" stroke="none"/>
<line x1="100.92" y1="784.61" x2="109.6" y2="789.67" stroke="#000" stroke-width="1.65"/>
<line x1="124.6" y1="789.67" x2="131.31" y2="785.75" stroke="#000" stroke-width="1.65"/>
<line x1="139.8" y1="832.1" x2="162.5" y2="818.85" stroke="#000" stroke-width="1.65"/>
<line x1="162.5" y1="818.85" x2="185.2" y2="832.1" stroke="#ff00ff" stroke-width="1.65"/>
<line x1="185.2" y1="832.1" x2="185.2" y2="858.6" stroke="#000" stroke-width="1.65"/>
<line x1="185.2" y1="858.6" x2="162.5" y2="871.85" stroke="#000" stroke-width="1.65"/>
<line x1="162.5" y1="871.85" x2="148.41" y2="863.63" stroke="#000" stroke-width="1.65"/>
<line x1="139.8" y1="850.7" x2="139.8" y2="832.1" stroke="#000" stroke-width="1.65"/>
<polygon points="185.35,832.36 207.9,815.9 207.9,821.8 185.05,831.84" fill="#000" stroke="none"/>
<line x1="210.25" y1="818.85" x2="210.25" y2="803.02" stroke="#000" stroke-width="1.65"/>
<line x1="205.55" y1="818.85" x2="205.55" y2="803.02" stroke="#000" stroke-width="1.65"/>
<polygon points="185.05,858.86 200.64,864.91 200.64,870.31 185.35,858.34" fill="#ff00ff" stroke="none"/>
<text x="224.37" y="839.2" font-size="17.9">PMP</text>
<line x1="207.9" y1="818.85" x2="223.34" y2="827.86" stroke="#000" stroke-width="1.65"/>
<line x1="134.76" y1="833.9" x2="135.76" y2="835.6" stroke="#000" stroke-width="1.65"/>
<line x1="129.95" y1="836.08" x2="131.49" y2="838.72" stroke="#000" stroke-width="1.65"/>
<line x1="125.14" y1="838.27" x2="127.22" y2="841.83" stroke="#000" stroke-width="1.65"/>
<line x1="120.33" y1="840.45" x2="122.95" y2="844.95" stroke="#000" stroke-width="1.65"/>
<line x1="117.1" y1="845.35" x2="94.4" y2="832.1" stroke="#000" stroke-width="1.65"/>
<line x1="94.4" y1="832.1" x2="71.7" y2="845.35" stroke="#000" stroke-width="1.65"/>
<line x1="71.7" y1="845.35" x2="71.7" y2="871.85" stroke="#000" stroke-width="1.65"/>
<line x1="71.7" y1="871.85" x2="94.4" y2="885.1" stroke="#000" stroke-width="1.65"/>
<line x1="94.4" y1="885.1" x2="117.1" y2="871.85" stroke="#000" stroke-width="1.65"/>
<line x1="117.1" y1="871.85" x2="117.1" y2="845.35" stroke="#000" stroke-width="1.65"/>
<line x1="112.67" y1="847.98" x2="94.29" y2="837.25" stroke="#000" stroke-width="1.65"/>
<line x1="76.2" y1="847.85" x2="76.2" y2="869.35" stroke="#000" stroke-width="1.65"/>
<line x1="94.29" y1="879.95" x2="112.67" y2="869.22" stroke="#000" stroke-width="1.65"/>
<text x="132.34" y="892.2" font-size="17.9">Me</text>
<line x1="117.1" y1="871.85" x2="131.31" y2="880.15" stroke="#000" stroke-width="1.65"/>
<text x="535.83" y="787.15" font-size="17.9">N</text>
<text x="502.48" y="773.9" font-size="17.9">Bp</text>
<text x="557.54" y="773.9" font-size="17.9">Me</text>
<text x="558.04" y="852.5" font-size="17.9">O</text>
<text x="626.14" y="787.15" font-size="17.9">O</text>
<text x="626.87" y="865.75" font-size="17.9" fill="#0000ff" stroke="#0000ff">Bpin</text>
<line x1="542.3" y1="789.65" x2="542.3" y2="805.65" stroke="#000" stroke-width="1.65"/>
<polygon points="565.15,818.64 542.3,802.7 542.3,808.6 564.85,819.16" fill="#000" stroke="none"/>
<line x1="526.12" y1="771.41" x2="534.8" y2="776.47" stroke="#000" stroke-width="1.65"/>
<line x1="549.8" y1="776.47" x2="556.51" y2="772.55" stroke="#000" stroke-width="1.65"/>
<line x1="565" y1="818.9" x2="587.7" y2="805.65" stroke="#000" stroke-width="1.65"/>
<line x1="587.7" y1="805.65" x2="610.4" y2="818.9" stroke="#ff00ff" stroke-width="1.65"/>
<line x1="610.4" y1="818.9" x2="610.4" y2="845.4" stroke="#000" stroke-width="1.65"/>
<line x1="610.4" y1="845.4" x2="587.7" y2="858.65" stroke="#000" stroke-width="1.65"/>
<line x1="587.7" y1="858.65" x2="573.61" y2="850.43" stroke="#000" stroke-width="1.65"/>
<line x1="565" y1="837.5" x2="565" y2="818.9" stroke="#000" stroke-width="1.65"/>
<polygon points="610.55,819.16 633.1,802.7 633.1,808.6 610.25,818.64" fill="#000" stroke="none"/>
<line x1="635.45" y1="805.65" x2="635.45" y2="789.82" stroke="#000" stroke-width="1.65"/>
<line x1="630.75" y1="805.65" x2="630.75" y2="789.82" stroke="#000" stroke-width="1.65"/>
<polygon points="610.25,845.66 625.84,851.71 625.84,857.11 610.55,845.14" fill="#ff00ff" stroke="none"/>
<text x="649.57" y="826" font-size="17.9">PMP</text>
<line x1="633.1" y1="805.65" x2="648.54" y2="814.66" stroke="#000" stroke-width="1.65"/>
<line x1="559.96" y1="820.7" x2="560.96" y2="822.4" stroke="#000" stroke-width="1.65"/>
<line x1="555.15" y1="822.88" x2="556.69" y2="825.52" stroke="#000" stroke-width="1.65"/>
<line x1="550.34" y1="825.07" x2="552.42" y2="828.63" stroke="#000" stroke-width="1.65"/>
<line x1="545.53" y1="827.25" x2="548.15" y2="831.75" stroke="#000" stroke-width="1.65"/>
<line x1="542.3" y1="832.15" x2="519.6" y2="818.9" stroke="#000" stroke-width="1.65"/>
<line x1="519.6" y1="818.9" x2="496.9" y2="832.15" stroke="#000" stroke-width="1.65"/>
<line x1="496.9" y1="832.15" x2="496.9" y2="858.65" stroke="#000" stroke-width="1.65"/>
<line x1="496.9" y1="858.65" x2="519.6" y2="871.9" stroke="#000" stroke-width="1.65"/>
<line x1="519.6" y1="871.9" x2="542.3" y2="858.65" stroke="#000" stroke-width="1.65"/>
<line x1="542.3" y1="858.65" x2="542.3" y2="832.15" stroke="#000" stroke-width="1.65"/>
<line x1="537.87" y1="834.78" x2="519.49" y2="824.05" stroke="#000" stroke-width="1.65"/>
<line x1="501.4" y1="834.65" x2="501.4" y2="856.15" stroke="#000" stroke-width="1.65"/>
<line x1="519.49" y1="866.75" x2="537.87" y2="856.02" stroke="#000" stroke-width="1.65"/>
<text x="512.64" y="905.5" font-size="17.9">OMe</text>
<line x1="519.6" y1="871.9" x2="519.6" y2="890.5" stroke="#000" stroke-width="1.65"/>
<text x="942.93" y="807.65" font-size="17.9">N</text>
<text x="909.58" y="794.4" font-size="17.9">Bp</text>
<text x="964.64" y="794.4" font-size="17.9">Me</text>
<text x="965.14" y="873" font-size="17.9">O</text>
<text x="1033.24" y="807.65" font-size="17.9">O</text>
<text x="1033.97" y="886.25" font-size="17.9" fill="#0000ff" stroke="#0000ff">Bpin</text>
<line x1="949.4" y1="810.15" x2="949.4" y2="826.15" stroke="#000" stroke-width="1.65"/>
<polygon points="972.25,839.14 949.4,823.2 949.4,829.1 971.95,839.66" fill="#000" stroke="none"/>
<line x1="933.22" y1="791.91" x2="941.9" y2="796.97" stroke="#000" stroke-width="1.65"/>
<line x1="956.9" y1="796.97" x2="963.61" y2="793.05" stroke="#000" stroke-width="1.65"/>
<line x1="972.1" y1="839.4" x2="994.8" y2="826.15" stroke="#000" stroke-width="1.65"/>
<line x1="994.8" y1="826.15" x2="1017.5" y2="839.4" stroke="#ff00ff" stroke-width="1.65"/>
<line x1="1017.5" y1="839.4" x2="1017.5" y2="865.9" stroke="#000" stroke-width="1.65"/>
<line x1="1017.5" y1="865.9" x2="994.8" y2="879.15" stroke="#000" stroke-width="1.65"/>
<line x1="994.8" y1="879.15" x2="980.71" y2="870.93" stroke="#000" stroke-width="1.65"/>
<line x1="972.1" y1="858" x2="972.1" y2="839.4" stroke="#000" stroke-width="1.65"/>
<polygon points="1017.65,839.66 1040.2,823.2 1040.2,829.1 1017.35,839.14" fill="#000" stroke="none"/>
<line x1="1042.55" y1="826.15" x2="1042.55" y2="810.32" stroke="#000" stroke-width="1.65"/>
<line x1="1037.85" y1="826.15" x2="1037.85" y2="810.32" stroke="#000" stroke-width="1.65"/>
<polygon points="1017.35,866.16 1032.94,872.21 1032.94,877.61 1017.65,865.64" fill="#ff00ff" stroke="none"/>
<text x="1056.67" y="846.5" font-size="17.9">PMP</text>
<line x1="1040.2" y1="826.15" x2="1055.64" y2="835.16" stroke="#000" stroke-width="1.65"/>
<text x="934.9" y="859.75" font-size="17.9">Et</text>
<line x1="967.06" y1="841.2" x2="968.06" y2="842.9" stroke="#000" stroke-width="1.65"/>
<line x1="962.25" y1="843.38" x2="963.79" y2="846.02" stroke="#000" stroke-width="1.65"/>
<line x1="957.44" y1="845.57" x2="959.52" y2="849.13" stroke="#000" stroke-width="1.65"/>
<line x1="952.63" y1="847.75" x2="955.25" y2="852.25" stroke="#000" stroke-width="1.65"/>
<text x="1383.53" y="807.65" font-size="17.9">N</text>
<text x="1350.18" y="794.4" font-size="17.9">Bp</text>
<text x="1405.24" y="794.4" font-size="17.9">Me</text>
<text x="1386.35" y="873" font-size="17.9">TsN</text>
<text x="1473.84" y="807.65" font-size="17.9">O</text>
<text x="1474.57" y="886.25" font-size="17.9" fill="#0000ff" stroke="#0000ff">Bpin</text>
<line x1="1390" y1="810.15" x2="1390" y2="826.15" stroke="#000" stroke-width="1.65"/>
<polygon points="1412.85,839.14 1390,823.2 1390,829.1 1412.55,839.66" fill="#000" stroke="none"/>
<line x1="1373.82" y1="791.91" x2="1382.5" y2="796.97" stroke="#000" stroke-width="1.65"/>
<line x1="1397.5" y1="796.97" x2="1404.21" y2="793.05" stroke="#000" stroke-width="1.65"/>
<line x1="1412.7" y1="839.4" x2="1435.4" y2="826.15" stroke="#000" stroke-width="1.65"/>
<line x1="1435.4" y1="826.15" x2="1458.1" y2="839.4" stroke="#ff00ff" stroke-width="1.65"/>
<line x1="1458.1" y1="839.4" x2="1458.1" y2="865.9" stroke="#000" stroke-width="1.65"/>
<line x1="1458.1" y1="865.9" x2="1435.4" y2="879.15" stroke="#000" stroke-width="1.65"/>
<line x1="1435.4" y1="879.15" x2="1420.2" y2="870.28" stroke="#000" stroke-width="1.65"/>
<line x1="1412.7" y1="858.19" x2="1412.7" y2="839.4" stroke="#000" stroke-width="1.65"/>
<polygon points="1458.25,839.66 1480.8,823.2 1480.8,829.1 1457.95,839.14" fill="#000" stroke="none"/>
<line x1="1483.15" y1="826.15" x2="1483.15" y2="810.32" stroke="#000" stroke-width="1.65"/>
<line x1="1478.45" y1="826.15" x2="1478.45" y2="810.32" stroke="#000" stroke-width="1.65"/>
<polygon points="1457.95,866.16 1473.54,872.21 1473.54,877.61 1458.25,865.64" fill="#ff00ff" stroke="none"/>
<text x="1497.27" y="846.5" font-size="17.9">PMP</text>
<line x1="1480.8" y1="826.15" x2="1496.24" y2="835.16" stroke="#000" stroke-width="1.65"/>
<text x="887.13" y="43.95" font-size="17.9">N</text>
<text x="853.78" y="30.7" font-size="17.9">Bp</text>
<text x="909.52" y="30.7" font-size="17.9">R</text>
<polygon points="928.1,14 928.1,23.7 926.5,23.7 926.5,16.82 924.2,17.5 924.2,16 926.5,14" fill="#000" stroke="none"/>
<text x="910.32" y="110.2" font-size="17.9">X</text>
<text x="977.44" y="44.05" font-size="17.9">O</text>
<text x="978.17" y="123.45" font-size="17.9" fill="#0000ff" stroke="#0000ff">Bpin</text>
<line x1="893.6" y1="46.45" x2="893.6" y2="63.35" stroke="#000" stroke-width="1.65"/>
<polygon points="916.45,76.34 893.6,60.4 893.6,66.3 916.15,76.86" fill="#000" stroke="none"/>
<line x1="877.42" y1="28.21" x2="886.1" y2="33.27" stroke="#000" stroke-width="1.65"/>
<line x1="901.1" y1="33.27" x2="908.49" y2="28.96" stroke="#000" stroke-width="1.65"/>
<line x1="916.3" y1="76.6" x2="939" y2="63.35" stroke="#000" stroke-width="1.65"/>
<line x1="939" y1="63.35" x2="961.7" y2="76.6" stroke="#ff00ff" stroke-width="1.65"/>
<line x1="961.7" y1="76.6" x2="961.7" y2="103.1" stroke="#000" stroke-width="1.65"/>
<line x1="961.7" y1="103.1" x2="939" y2="116.35" stroke="#000" stroke-width="1.65"/>
<line x1="939" y1="116.35" x2="924.38" y2="107.82" stroke="#000" stroke-width="1.65"/>
<line x1="916.3" y1="95.39" x2="916.3" y2="76.6" stroke="#000" stroke-width="1.65"/>
<polygon points="961.85,76.86 984.4,60.4 984.4,66.3 961.55,76.34" fill="#000" stroke="none"/>
<line x1="986.75" y1="63.35" x2="986.75" y2="46.72" stroke="#000" stroke-width="1.65"/>
<line x1="982.05" y1="63.35" x2="982.05" y2="46.72" stroke="#000" stroke-width="1.65"/>
<polygon points="961.55,103.36 977.14,109.41 977.14,114.81 961.85,102.84" fill="#ff00ff" stroke="none"/>
<text x="1001.13" y="83.7" font-size="17.9">Ar</text>
<line x1="984.4" y1="63.35" x2="998.67" y2="71.68" stroke="#000" stroke-width="1.65"/>
<text x="886.82" y="96.95" font-size="17.9">R</text>
<line x1="911.26" y1="78.4" x2="912.26" y2="80.1" stroke="#000" stroke-width="1.65"/>
<line x1="906.45" y1="80.58" x2="907.99" y2="83.22" stroke="#000" stroke-width="1.65"/>
<line x1="901.64" y1="82.77" x2="903.72" y2="86.33" stroke="#000" stroke-width="1.65"/>
<text x="34.67" y="326" xml:space="preserve"><tspan font-weight="bold">2a</tspan>, 73% yield, 90% ee,  &gt;20:1 dr</text>
<text x="461.77" y="326" xml:space="preserve"><tspan font-weight="bold">2b</tspan>, 73% yield, 90% ee, &gt;20:1 dr</text>
<text x="872.97" y="326" xml:space="preserve"><tspan font-weight="bold">2c</tspan>, 72% yield, 90% ee, &gt;20:1 dr</text>
<text x="1318.37" y="326" xml:space="preserve"><tspan font-weight="bold">2d</tspan>, 70% yield, 93% ee, 16:1 dr</text>
<text x="37.37" y="516.6" xml:space="preserve"><tspan font-weight="bold">2e</tspan>, 45% yield, 88% ee, &gt;20:1 dr</text>
<text x="469.67" y="516.6" xml:space="preserve"><tspan font-weight="bold">2f</tspan>, 60% yield, 90% ee, 13:1 dr</text>
<text x="883.07" y="516.6" xml:space="preserve"><tspan font-weight="bold">2g</tspan>, 70% yield, 85% ee, 8:1 dr</text>
<text x="1318.37" y="516.6" xml:space="preserve"><tspan font-weight="bold">2h</tspan>, 56% yield, 88% ee, 13:1 dr</text>
<text x="39.77" y="714.4" xml:space="preserve"><tspan font-weight="bold">2i,</tspan> 82% yield, 90% ee, &gt;20:1 dr</text>
<text x="461.77" y="719" xml:space="preserve"><tspan font-weight="bold">2j,</tspan> 77% yield, 88% ee, &gt;20:1 dr<tspan font-size="12.2" font-style="italic" dy="-7.2">b</tspan></text>
<text x="869.27" y="719.1" xml:space="preserve"><tspan font-weight="bold">2k,</tspan> 67% yield, 93% ee, &gt;20:1 dr<tspan font-size="12.2" font-style="italic" dy="-7.2">b</tspan></text>
<text x="1312.67" y="719.1" xml:space="preserve"><tspan font-weight="bold">2l,</tspan> 75% yield, 84% ee, &gt;20:1 dr<tspan font-size="12.2" font-style="italic" dy="-7.2">b</tspan></text>
<text x="30.17" y="929.3" xml:space="preserve"><tspan font-weight="bold">2m,</tspan> 65% yield, 92% ee, &gt;20:1 dr<tspan font-size="12.2" font-style="italic" dy="-7.2">b</tspan></text>
<text x="458.37" y="929.3" xml:space="preserve"><tspan font-weight="bold">2n,</tspan> 77% yield, 83% ee, &gt;20:1 dr<tspan font-size="12.2" font-style="italic" dy="-7.2">b</tspan></text>
<text x="868.87" y="929.3" xml:space="preserve"><tspan font-weight="bold">2o,</tspan> 51% yield, 91% ee, &gt;20:1 dr<tspan font-size="12.2" font-style="italic" dy="-7.2">b</tspan></text>
<text x="1309.87" y="929.3" xml:space="preserve"><tspan font-weight="bold">2p,</tspan> 88% yield, 95% ee, &gt;20:1 dr<tspan font-size="12.2" font-style="italic" dy="-7.2">c</tspan></text>
<text x="247.63" y="57.5" font-size="17.9">N</text>
<line x1="235.9" y1="51.1" x2="243.3" y2="51.1" stroke="#000" stroke-width="1.35"/>
<line x1="239.6" y1="47.4" x2="239.6" y2="54.8" stroke="#000" stroke-width="1.35"/>
<text x="223.73" y="35.4" font-size="17.9">Bp</text>
<text x="260.57" y="35.4" font-size="17.9">R</text>
<polygon points="278.9,18.5 278.9,27.9 277.3,27.9 277.3,21.27 275,21.9 275,20.5 277.3,18.5" fill="#000" stroke="none"/>
<line x1="247.37" y1="38.88" x2="249.6" y2="42.69" stroke="#000" stroke-width="1.65"/>
<line x1="261.4" y1="37.9" x2="258.6" y2="42.69" stroke="#000" stroke-width="1.65"/>
<line x1="246.6" y1="57.9" x2="235.35" y2="69.15" stroke="#000" stroke-width="1.65"/>
<line x1="235.35" y1="69.15" x2="254.1" y2="87.9" stroke="#000" stroke-width="1.65"/>
<line x1="254.1" y1="87.9" x2="272.85" y2="69.15" stroke="#000" stroke-width="1.65"/>
<line x1="272.85" y1="69.15" x2="261.6" y2="57.9" stroke="#000" stroke-width="1.65"/>
<text x="224.62" y="108.25" font-size="17.9">R</text>
<text x="270.82" y="108.25" font-size="17.9">X</text>
<line x1="254.1" y1="87.9" x2="239.21" y2="96.59" stroke="#000" stroke-width="1.65"/>
<line x1="254.1" y1="87.9" x2="268.72" y2="96.43" stroke="#000" stroke-width="1.65"/>
<line x1="284.88" y1="96.43" x2="299.5" y2="87.9" stroke="#000" stroke-width="1.65"/>
<line x1="299.5" y1="87.9" x2="322.3" y2="101.15" stroke="#000" stroke-width="1.65"/>
<line x1="322.3" y1="101.15" x2="345" y2="87.9" stroke="#000" stroke-width="1.65"/>
<line x1="319.98" y1="97.18" x2="340.09" y2="85.44" stroke="#000" stroke-width="1.65"/>
<line x1="345" y1="87.9" x2="367.8" y2="101.15" stroke="#000" stroke-width="1.65"/>
<text x="384.83" y="95" font-size="17.9">Ar</text>
<line x1="367.8" y1="101.15" x2="382.37" y2="92.76" stroke="#000" stroke-width="1.65"/>
<text x="360.84" y="134.75" font-size="17.9">O</text>
<line x1="365.45" y1="101.15" x2="365.45" y2="119.75" stroke="#000" stroke-width="1.65"/>
<line x1="370.15" y1="101.15" x2="370.15" y2="119.75" stroke="#000" stroke-width="1.65"/>
<text x="289.63" y="65">OTf</text>
<line x1="288.6" y1="44.8" x2="295.6" y2="44.8" stroke="#000" stroke-width="1.35"/>
<polygon points="315.3,130.3 315.3,142.9 312.1,142.9 312.1,134.66 309,135.7 309,133.4 312.1,130.3" fill="#000" stroke="none"/>
<text x="428.6" y="86.4" text-anchor="middle">+</text>
<text x="468.8" y="82.0" fill="#0000ff" stroke="#0000ff">B<tspan font-size="13.6" dy="4.0" dx="0.5">2</tspan><tspan dy="-4.0">pin</tspan><tspan font-size="13.6" dy="4.0" dx="0.3">2</tspan></text>
<line x1="559.1" y1="75.4" x2="807" y2="75.4" stroke="#000" stroke-width="1.25"/>
<polygon points="818.2,75.4 805.0,72.0 806.6,75.4 805.0,78.8" stroke="none"/>
<text x="686.2" y="43.1" font-size="18.6" text-anchor="middle">Cu(TFA)<tspan font-size="13" dy="4.2">2</tspan><tspan dy="-4.2"> • H</tspan><tspan font-size="13" dy="4.2">2</tspan><tspan dy="-4.2">O (10 mol%)</tspan></text>
<text x="686.2" y="66.3" font-size="18.6" text-anchor="middle">(<tspan font-style="italic">S</tspan>,<tspan font-style="italic">S</tspan><tspan font-size="13" dy="4.2" font-style="italic">p</tspan><tspan dy="-4.2">)-</tspan><tspan font-weight="bold">L9</tspan> (12 mol%)</text>
<text x="686.2" y="100.8" font-size="18.6" text-anchor="middle">Cs<tspan font-size="13" dy="4.2">2</tspan><tspan dy="-4.2">CO</tspan><tspan font-size="13" dy="4.2">3</tspan><tspan dy="-4.2">, </tspan><tspan font-size="13" dy="-7" font-style="italic">t</tspan><tspan dy="7">BuOH, THF</tspan></text>
<text x="686.2" y="125.2" font-size="18.6" text-anchor="middle">T <tspan font-size="13" dy="-7">o</tspan><tspan dy="7">C</tspan></text>
<text x="935.9" y="142.6" font-weight="bold" text-anchor="middle">2</text>
<line x1="922.3" y1="76.6" x2="922.3" y2="82.8" stroke="#ff1a1a" stroke-width="1.5"/>
<line x1="919.62" y1="78.15" x2="924.98" y2="81.25" stroke="#ff1a1a" stroke-width="1.5"/>
<line x1="919.62" y1="81.25" x2="924.98" y2="78.15" stroke="#ff1a1a" stroke-width="1.5"/>
<line x1="955.5" y1="76.4" x2="955.5" y2="82.6" stroke="#ff1a1a" stroke-width="1.5"/>
<line x1="952.82" y1="77.95" x2="958.18" y2="81.05" stroke="#ff1a1a" stroke-width="1.5"/>
<line x1="952.82" y1="81.05" x2="958.18" y2="77.95" stroke="#ff1a1a" stroke-width="1.5"/>
<line x1="955.5" y1="93.3" x2="955.5" y2="99.5" stroke="#ff1a1a" stroke-width="1.5"/>
<line x1="952.82" y1="94.85" x2="958.18" y2="97.95" stroke="#ff1a1a" stroke-width="1.5"/>
<line x1="952.82" y1="97.95" x2="958.18" y2="94.85" stroke="#ff1a1a" stroke-width="1.5"/>
<rect x="0" y="164.9" width="1565.8" height="2" fill="#444" stroke="none"/>
<rect x="2.8" y="952.4" width="1581" height="2" fill="#000" stroke="none"/>
<rect x="1145" y="1.3" width="256.2" height="155.9" fill="none" stroke="#000" stroke-width="1.8"/>
<text x="1267.75" y="125.3" text-anchor="middle">X-ray of <tspan font-weight="bold">2b</tspan></text>
<text x="1267.8" y="146.9" text-anchor="middle">CCDC: 2390026</text>
<g><line x1="1194.6" y1="69.2" x2="1207.7" y2="73.9" stroke="#958f8c" stroke-width="2.6"/><line x1="1207.7" y1="73.9" x2="1207.2" y2="88.6" stroke="#958f8c" stroke-width="2.6"/><line x1="1207.2" y1="88.6" x2="1193.1" y2="97" stroke="#958f8c" stroke-width="2.6"/><line x1="1193.1" y1="97" x2="1178.9" y2="92.3" stroke="#958f8c" stroke-width="2.6"/><line x1="1178.9" y1="92.3" x2="1180" y2="78.1" stroke="#958f8c" stroke-width="2.6"/><line x1="1180" y1="78.1" x2="1194.6" y2="69.2" stroke="#958f8c" stroke-width="2.6"/><line x1="1207.7" y1="73.9" x2="1222.9" y2="64.5" stroke="#958f8c" stroke-width="2.6"/><line x1="1222.9" y1="64.5" x2="1227.65" y2="63.2" stroke="#958f8c" stroke-width="2.6"/><line x1="1227.65" y1="63.2" x2="1232.4" y2="61.9" stroke="#2b3cf0" stroke-width="2.6"/><line x1="1232.4" y1="61.9" x2="1226.9" y2="57.95" stroke="#2b3cf0" stroke-width="2.6"/><line x1="1226.9" y1="57.95" x2="1221.4" y2="54" stroke="#958f8c" stroke-width="2.6"/><line x1="1232.4" y1="61.9" x2="1239.2" y2="56.65" stroke="#2b3cf0" stroke-width="2.6"/><line x1="1239.2" y1="56.65" x2="1246" y2="51.4" stroke="#958f8c" stroke-width="2.6"/><line x1="1246" y1="51.4" x2="1258.2" y2="49.5" stroke="#958f8c" stroke-width="2.6"/><line x1="1222.9" y1="64.5" x2="1234.5" y2="72.9" stroke="#958f8c" stroke-width="2.6"/><line x1="1234.5" y1="72.9" x2="1239.2" y2="64.5" stroke="#958f8c" stroke-width="2.6"/><line x1="1239.2" y1="64.5" x2="1250.2" y2="71.8" stroke="#958f8c" stroke-width="2.6"/><line x1="1250.2" y1="71.8" x2="1256.5" y2="87.6" stroke="#958f8c" stroke-width="2.6"/><line x1="1256.5" y1="87.6" x2="1251.8" y2="96" stroke="#958f8c" stroke-width="2.6"/><line x1="1251.8" y1="96" x2="1241.3" y2="88.1" stroke="#958f8c" stroke-width="2.6"/><line x1="1241.3" y1="88.1" x2="1234.5" y2="72.9" stroke="#958f8c" stroke-width="2.6"/><line x1="1258.2" y1="49.5" x2="1261" y2="57.9" stroke="#958f8c" stroke-width="2.6"/><line x1="1261" y1="57.9" x2="1263.8" y2="66.3" stroke="#e3222a" stroke-width="2.6"/><line x1="1263.8" y1="66.3" x2="1270.55" y2="66.65" stroke="#e3222a" stroke-width="2.6"/><line x1="1270.55" y1="66.65" x2="1277.3" y2="67" stroke="#958f8c" stroke-width="2.6"/><line x1="1277.3" y1="67" x2="1292.4" y2="57.3" stroke="#958f8c" stroke-width="2.6"/><line x1="1292.4" y1="57.3" x2="1288" y2="38.6" stroke="#958f8c" stroke-width="2.6"/><line x1="1288" y1="38.6" x2="1273.1" y2="38" stroke="#958f8c" stroke-width="2.6"/><line x1="1273.1" y1="38" x2="1258.2" y2="49.5" stroke="#958f8c" stroke-width="2.6"/><line x1="1288" y1="38.6" x2="1302.8" y2="29.8" stroke="#958f8c" stroke-width="2.6"/><line x1="1302.8" y1="29.8" x2="1302.8" y2="27.2" stroke="#958f8c" stroke-width="2.6"/><line x1="1302.8" y1="27.2" x2="1302.8" y2="24.6" stroke="#e3222a" stroke-width="2.6"/><line x1="1302.8" y1="29.8" x2="1315.5" y2="27" stroke="#958f8c" stroke-width="2.6"/><line x1="1315.5" y1="27" x2="1328" y2="20.4" stroke="#958f8c" stroke-width="2.6"/><line x1="1328" y1="20.4" x2="1342.5" y2="18.6" stroke="#958f8c" stroke-width="2.6"/><line x1="1342.5" y1="18.6" x2="1350" y2="20" stroke="#958f8c" stroke-width="2.6"/><line x1="1350" y1="20" x2="1344" y2="22.6" stroke="#958f8c" stroke-width="2.6"/><line x1="1344" y1="22.6" x2="1330.9" y2="25.9" stroke="#958f8c" stroke-width="2.6"/><line x1="1330.9" y1="25.9" x2="1315.5" y2="27" stroke="#958f8c" stroke-width="2.6"/><line x1="1350" y1="20" x2="1360.1" y2="18.2" stroke="#958f8c" stroke-width="2.6"/><line x1="1292.4" y1="57.3" x2="1296.25" y2="61.15" stroke="#958f8c" stroke-width="2.6"/><line x1="1296.25" y1="61.15" x2="1300.1" y2="65" stroke="#f2c511" stroke-width="2.6"/><line x1="1300.1" y1="65" x2="1296.25" y2="69.15" stroke="#f2c511" stroke-width="2.6"/><line x1="1296.25" y1="69.15" x2="1292.4" y2="73.3" stroke="#e3222a" stroke-width="2.6"/><line x1="1300.1" y1="65" x2="1308.35" y2="66.4" stroke="#f2c511" stroke-width="2.6"/><line x1="1308.35" y1="66.4" x2="1316.6" y2="67.8" stroke="#e3222a" stroke-width="2.6"/><line x1="1292.4" y1="73.3" x2="1296.8" y2="76.6" stroke="#e3222a" stroke-width="2.6"/><line x1="1296.8" y1="76.6" x2="1301.2" y2="79.9" stroke="#958f8c" stroke-width="2.6"/><line x1="1316.6" y1="67.8" x2="1318.8" y2="71.65" stroke="#e3222a" stroke-width="2.6"/><line x1="1318.8" y1="71.65" x2="1321" y2="75.5" stroke="#958f8c" stroke-width="2.6"/><line x1="1301.2" y1="79.9" x2="1321" y2="75.5" stroke="#958f8c" stroke-width="2.6"/><line x1="1301.2" y1="79.9" x2="1301.7" y2="99.1" stroke="#958f8c" stroke-width="2.6"/><line x1="1301.2" y1="79.9" x2="1296" y2="79" stroke="#958f8c" stroke-width="2.6"/><line x1="1321" y1="75.5" x2="1325.4" y2="58.9" stroke="#958f8c" stroke-width="2.6"/><line x1="1321" y1="75.5" x2="1333.7" y2="86.5" stroke="#958f8c" stroke-width="2.6"/><ellipse cx="1194.6" cy="69.2" rx="2.4" ry="2.1" fill="#8a8790" stroke="#5f5b62" stroke-width="0.6"/><ellipse cx="1207.7" cy="73.9" rx="2.4" ry="2.1" fill="#8a8790" stroke="#5f5b62" stroke-width="0.6"/><ellipse cx="1207.2" cy="88.6" rx="2.4" ry="2.1" fill="#8a8790" stroke="#5f5b62" stroke-width="0.6"/><ellipse cx="1193.1" cy="97" rx="2.4" ry="2.1" fill="#8a8790" stroke="#5f5b62" stroke-width="0.6"/><ellipse cx="1178.9" cy="92.3" rx="2.4" ry="2.1" fill="#8a8790" stroke="#5f5b62" stroke-width="0.6"/><ellipse cx="1180" cy="78.1" rx="2.4" ry="2.1" fill="#8a8790" stroke="#5f5b62" stroke-width="0.6"/><ellipse cx="1222.9" cy="64.5" rx="2.4" ry="2.1" fill="#8a8790" stroke="#5f5b62" stroke-width="0.6"/><ellipse cx="1232.4" cy="61.9" rx="2.8" ry="2.4" fill="#2b3cf0" stroke="#2b3cf0" stroke-width="0.6"/><ellipse cx="1221.4" cy="54" rx="3" ry="2.6" fill="#8a8790" stroke="#5f5b62" stroke-width="0.6"/><ellipse cx="1246" cy="51.4" rx="2.4" ry="2.1" fill="#8a8790" stroke="#5f5b62" stroke-width="0.6"/><ellipse cx="1258.2" cy="49.5" rx="2.4" ry="2.1" fill="#8a8790" stroke="#5f5b62" stroke-width="0.6"/><ellipse cx="1234.5" cy="72.9" rx="2.4" ry="2.1" fill="#8a8790" stroke="#5f5b62" stroke-width="0.6"/><ellipse cx="1239.2" cy="64.5" rx="2.4" ry="2.1" fill="#8a8790" stroke="#5f5b62" stroke-width="0.6"/><ellipse cx="1250.2" cy="71.8" rx="2.4" ry="2.1" fill="#8a8790" stroke="#5f5b62" stroke-width="0.6"/><ellipse cx="1256.5" cy="87.6" rx="2.4" ry="2.1" fill="#8a8790" stroke="#5f5b62" stroke-width="0.6"/><ellipse cx="1251.8" cy="96" rx="2.4" ry="2.1" fill="#8a8790" stroke="#5f5b62" stroke-width="0.6"/><ellipse cx="1241.3" cy="88.1" rx="2.4" ry="2.1" fill="#8a8790" stroke="#5f5b62" stroke-width="0.6"/><ellipse cx="1263.8" cy="66.3" rx="2.6" ry="2.6" fill="#e3222a" stroke="#e3222a" stroke-width="0.6"/><ellipse cx="1277.3" cy="67" rx="2.4" ry="2.1" fill="#8a8790" stroke="#5f5b62" stroke-width="0.6"/><ellipse cx="1292.4" cy="57.3" rx="2.4" ry="2.1" fill="#8a8790" stroke="#5f5b62" stroke-width="0.6"/><ellipse cx="1288" cy="38.6" rx="2.4" ry="2.1" fill="#8a8790" stroke="#5f5b62" stroke-width="0.6"/><ellipse cx="1273.1" cy="38" rx="2.4" ry="2.1" fill="#8a8790" stroke="#5f5b62" stroke-width="0.6"/><ellipse cx="1302.8" cy="29.8" rx="2.4" ry="2.1" fill="#8a8790" stroke="#5f5b62" stroke-width="0.6"/><ellipse cx="1302.8" cy="24.6" rx="2.5" ry="3.3" fill="#e3222a" stroke="#e3222a" stroke-width="0.6"/><ellipse cx="1315.5" cy="27" rx="2.4" ry="2.1" fill="#8a8790" stroke="#5f5b62" stroke-width="0.6"/><ellipse cx="1328" cy="20.4" rx="2.4" ry="2.1" fill="#8a8790" stroke="#5f5b62" stroke-width="0.6"/><ellipse cx="1330.9" cy="25.9" rx="2.4" ry="2.1" fill="#8a8790" stroke="#5f5b62" stroke-width="0.6"/><ellipse cx="1342.5" cy="18.6" rx="2.4" ry="2.1" fill="#8a8790" stroke="#5f5b62" stroke-width="0.6"/><ellipse cx="1344" cy="22.6" rx="2.4" ry="2.1" fill="#8a8790" stroke="#5f5b62" stroke-width="0.6"/><ellipse cx="1350" cy="20" rx="2.4" ry="2.1" fill="#8a8790" stroke="#5f5b62" stroke-width="0.6"/><ellipse cx="1360.1" cy="18.2" rx="3" ry="2.6" fill="#8a8790" stroke="#5f5b62" stroke-width="0.6"/><ellipse cx="1300.1" cy="65" rx="2.8" ry="2.6" fill="#f2c511" stroke="#f2c511" stroke-width="0.6"/><ellipse cx="1292.4" cy="73.3" rx="3.2" ry="3.8" fill="#e3222a" stroke="#e3222a" stroke-width="0.6"/><ellipse cx="1316.6" cy="67.8" rx="3" ry="3.6" fill="#e3222a" stroke="#e3222a" stroke-width="0.6"/><ellipse cx="1301.2" cy="79.9" rx="3.3" ry="3.8" fill="#8a8790" stroke="#5f5b62" stroke-width="0.6"/><ellipse cx="1321" cy="75.5" rx="2.4" ry="2.1" fill="#8a8790" stroke="#5f5b62" stroke-width="0.6"/><ellipse cx="1301.7" cy="99.1" rx="4.6" ry="3.2" fill="#8a8790" stroke="#5f5b62" stroke-width="0.6"/><ellipse cx="1296" cy="79" rx="2.4" ry="2.1" fill="#8a8790" stroke="#5f5b62" stroke-width="0.6"/><ellipse cx="1325.4" cy="58.9" rx="4.4" ry="3.3" fill="#8a8790" stroke="#5f5b62" stroke-width="0.6"/><ellipse cx="1333.7" cy="86.5" rx="3" ry="4.6" fill="#8a8790" stroke="#5f5b62" stroke-width="0.6"/></g>

</g>
</svg></body></html>
